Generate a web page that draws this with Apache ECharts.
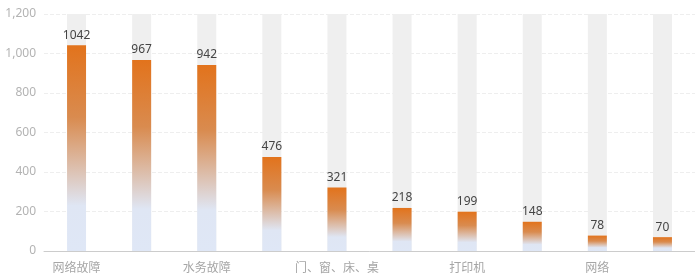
<!DOCTYPE html>
<html>
<head>
<meta charset="utf-8">
<script src="https://cdn.jsdelivr.net/npm/echarts@6/dist/echarts.min.js"></script>
<style>
  html, body { margin: 0; padding: 0; background: #fff; }
  #chart { width: 695px; height: 274px; }
</style>
</head>
<body>
<div id="chart"></div>
<script>
// 故障类别与数量
var categories = ['网络故障', '电脑故障', '水务故障', '电力故障', '门、窗、床、桌', '空调故障', '打印机', '电话故障', '网络', '其他'];
var counts = [1042, 967, 942, 476, 321, 218, 199, 148, 78, 70];
var yMax = 1200;
var bgValues = categories.map(function () { return yMax; });

var myChart = echarts.init(document.getElementById('chart'));
var option = {
  animation: false,
  grid: { left: 44, right: -5, top: 14, bottom: 23 },
  xAxis: {
    type: 'category',
    data: categories,
    axisLine: { lineStyle: { color: '#cccccc' } },
    axisTick: { interval: 1, lineStyle: { color: '#cccccc' } },
    axisLabel: {
      interval: 1,
      color: '#a6a6a6',
      fontSize: 12,
      margin: 10,
      fontFamily: 'Noto Sans CJK SC'
    }
  },
  yAxis: {
    type: 'value',
    min: 0,
    max: yMax,
    interval: 200,
    axisLine: { show: false },
    axisTick: { show: false },
    axisLabel: { color: '#b3b3b3', fontSize: 12, margin: 8, fontFamily: 'Noto Sans' },
    splitLine: { lineStyle: { type: 'dashed', color: '#eeeeee' } }
  },
  series: [
    {
      // 灰色背景柱
      type: 'bar',
      data: bgValues,
      barWidth: 19,
      barGap: '-100%',
      silent: true,
      itemStyle: { color: '#efefef' },
      z: 1
    },
    {
      type: 'bar',
      data: counts,
      barWidth: 19,
      z: 2,
      itemStyle: {
        color: new echarts.graphic.LinearGradient(0, 0, 0, 1, [
          { offset: 0, color: '#e2731c' },
          { offset: 0.35, color: '#d98b4f' },
          { offset: 0.78, color: '#dfe6f4' },
          { offset: 1, color: '#dfe7f6' }
        ])
      },
      label: {
        show: true,
        position: 'top',
        color: '#444444',
        fontSize: 12,
        distance: 4,
        fontFamily: 'Noto Sans'
      }
    }
  ]
};
myChart.setOption(option);
</script>
</body>
</html>
